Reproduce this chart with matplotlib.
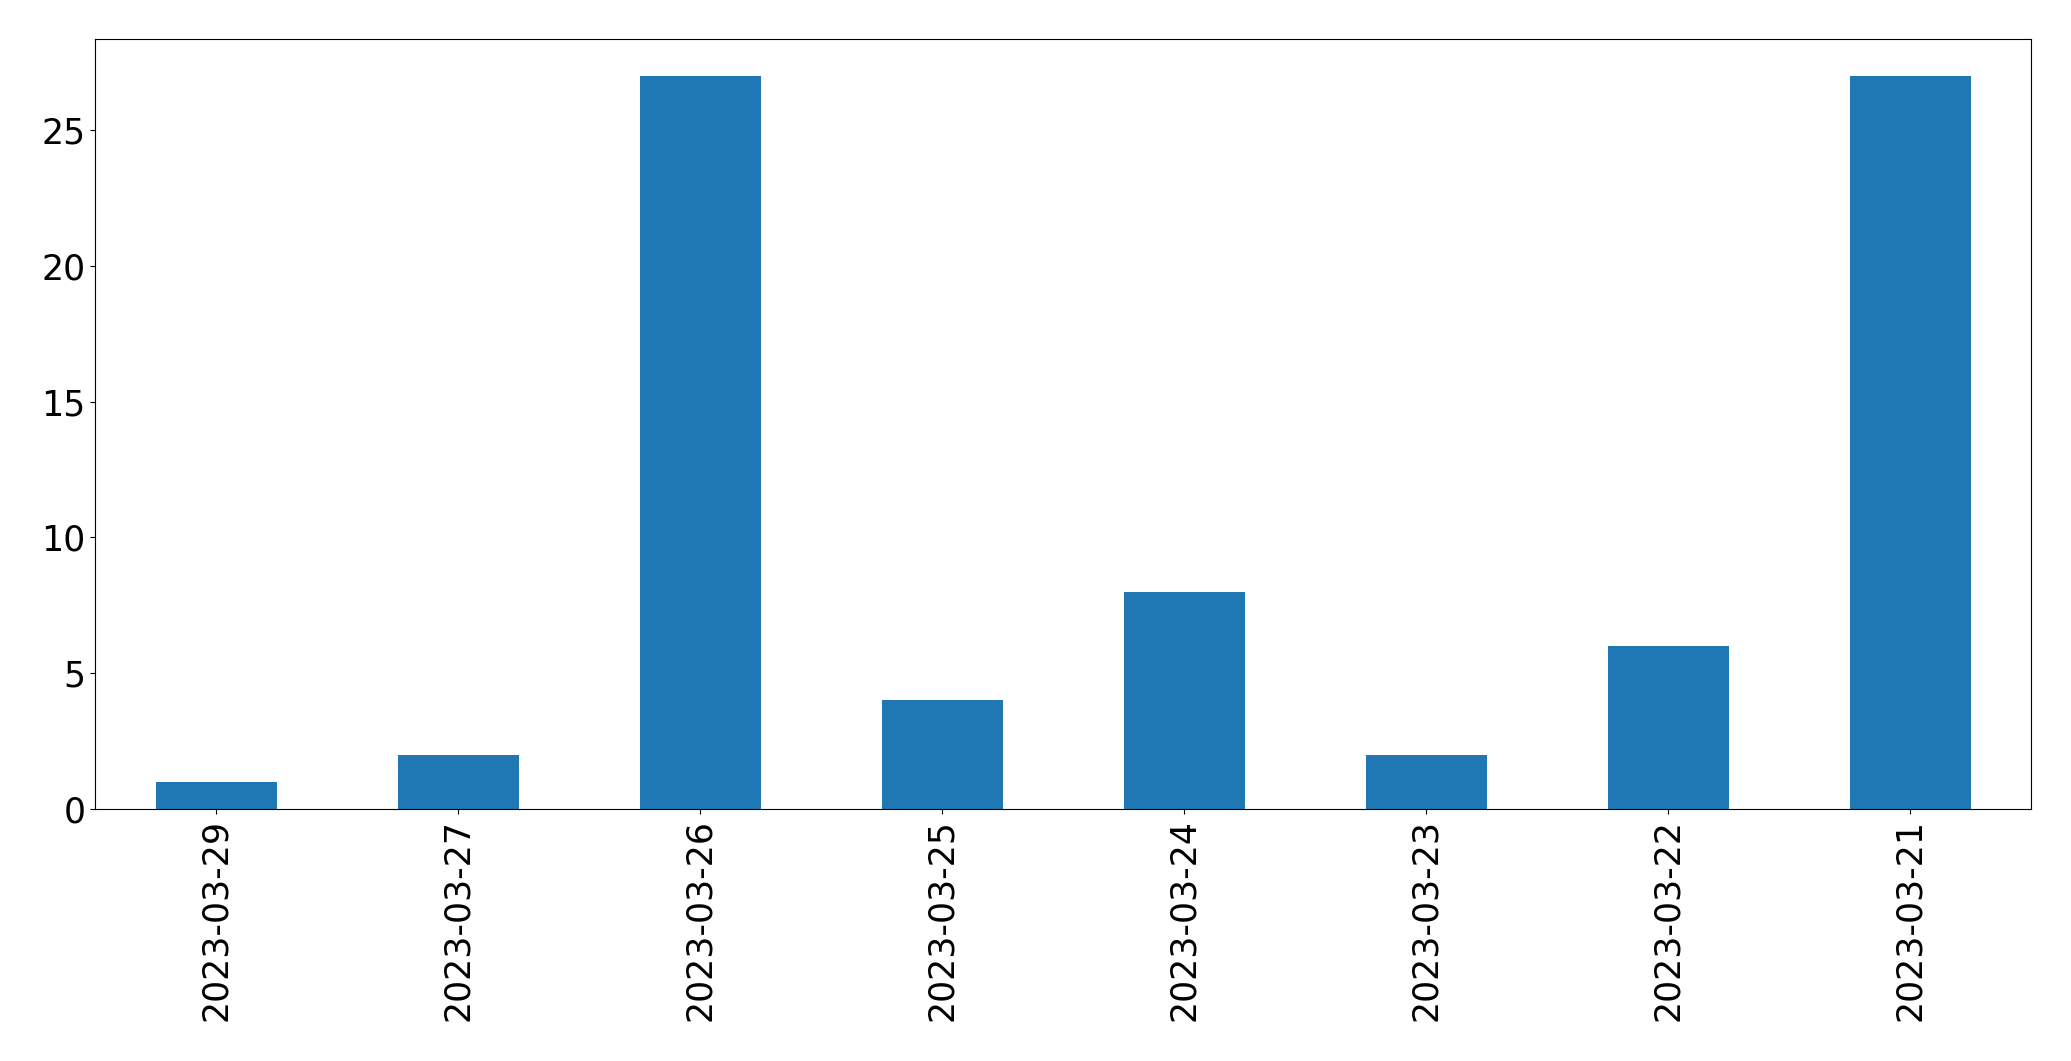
import matplotlib
matplotlib.use("Agg")
import matplotlib.pyplot as plt

dates = ["2023-03-29", "2023-03-27", "2023-03-26", "2023-03-25",
         "2023-03-24", "2023-03-23", "2023-03-22", "2023-03-21"]
counts = [1, 2, 27, 4, 8, 2, 6, 27]

fig = plt.figure(figsize=(20.71, 10.61), dpi=100)
ax = fig.add_axes([95 / 2071, 1 - 809 / 1061, (2031 - 95) / 2071, (809 - 39) / 1061])
x = list(range(len(dates)))
ax.bar(x, counts, width=0.5, color="#1f77b4")
ax.set_xlim(-0.5, len(dates) - 0.5)
ax.set_ylim(0, 28.35)
ax.set_xticks(x)
ax.set_xticklabels(dates, rotation=90)
ax.tick_params(labelsize=25)
fig.savefig("out.png", dpi=100)
